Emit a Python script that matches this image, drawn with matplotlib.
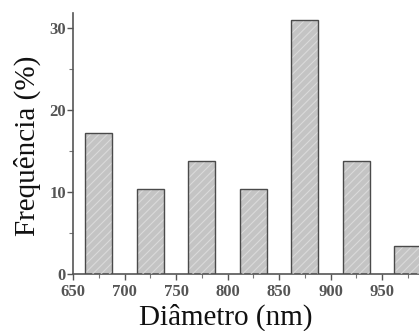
import matplotlib
matplotlib.use("Agg")
import matplotlib.pyplot as plt
from matplotlib.ticker import MultipleLocator

diameters = [675, 725, 775, 825, 875, 925, 975]
frequency = [17.2, 10.3, 13.8, 10.3, 31.0, 13.8, 3.4]
xticks = [650, 700, 750, 800, 850, 900, 950]
yticks = [0, 10, 20, 30]

plt.rcParams['font.family'] = ['Liberation Serif', 'DejaVu Serif']
plt.rcParams['hatch.linewidth'] = 0.8

fig = plt.figure(figsize=(4.19, 3.31), dpi=100)
ax = fig.add_axes([73/419, 1-274/331, 360.5/419, 261/331])

ax.bar(diameters, frequency, width=26, color='#c4c4c4', edgecolor='none', zorder=2)
ax.bar(diameters, frequency, width=26, fill=False, hatch='////', edgecolor='#dadada', linewidth=0, zorder=3)
ax.bar(diameters, frequency, width=26, fill=False, edgecolor='#4a4a4a', linewidth=1.0, zorder=4)

ax.set_xlim(650, 1000)
ax.set_ylim(0, 31.8)
ax.set_xticks(xticks)
ax.set_yticks(yticks)
ax.xaxis.set_minor_locator(MultipleLocator(25))
ax.yaxis.set_minor_locator(MultipleLocator(5))

for s in ['top', 'right']:
    ax.spines[s].set_visible(False)
for s in ['left', 'bottom']:
    ax.spines[s].set_color('#555555')
    ax.spines[s].set_linewidth(1.2)

ax.tick_params(which='major', direction='out', length=4, width=1, color='#555555',
               labelsize=12, labelcolor='#555555')
ax.tick_params(which='minor', direction='out', length=3, width=0.8, color='#777777')
ax.tick_params(axis='y', pad=1)
ax.tick_params(axis='x', pad=3)
for lab in ax.get_xticklabels() + ax.get_yticklabels():
    lab.set_fontweight('bold')

fig.text(226/419, 1-325/331, 'Diâmetro (nm)', ha='center', va='baseline', fontsize=21, color='#111111')
fig.text(27/419, 1-146/331, 'Frequência (%)', ha='center', va='center', rotation=90, fontsize=21, color='#111111')

fig.savefig('out.png', dpi=100)
